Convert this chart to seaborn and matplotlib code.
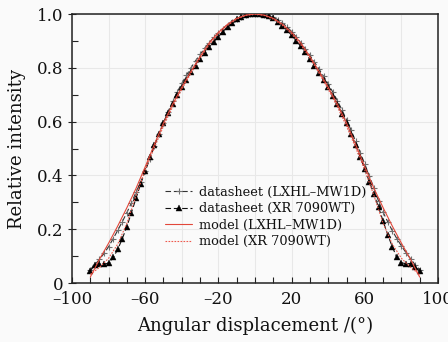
import numpy as np
import pandas as pd
import matplotlib
matplotlib.use("Agg")
import matplotlib.pyplot as plt
import seaborn as sns

# ---- data ----
ds_angle = [-90, -87.5, -85, -82.5, -80, -77.5, -75, -72.5, -70, -67.5, -65, -62.5,
            -60, -57.5, -55, -52.5, -50, -47.5, -45, -42.5, -40, -37.5, -35, -32.5,
            -30, -27.5, -25, -22.5, -20, -17.5, -15, -12.5, -10, -7.5, -5, -2.5, 0,
            2.5, 5, 7.5, 10, 12.5, 15, 17.5, 20, 22.5, 25, 27.5, 30, 32.5, 35, 37.5,
            40, 42.5, 45, 47.5, 50, 52.5, 55, 57.5, 60, 62.5, 65, 67.5, 70, 72.5, 75,
            77.5, 80, 82.5, 85, 87.5, 90]

ds_lxhl = [0.050, 0.068, 0.088, 0.110, 0.135, 0.165, 0.196, 0.228, 0.262, 0.298, 0.338, 0.375,
           0.415, 0.462, 0.508, 0.553, 0.596, 0.637, 0.675, 0.710, 0.742, 0.772, 0.800, 0.826,
           0.850, 0.873, 0.894, 0.913, 0.930, 0.946, 0.960, 0.972, 0.982, 0.990, 0.996, 0.999,
           1.000,
           1.000, 0.998, 0.994, 0.988, 0.979, 0.967, 0.952, 0.935, 0.915, 0.893, 0.870, 0.846,
           0.821, 0.795, 0.768, 0.740, 0.710, 0.678, 0.644, 0.607, 0.568, 0.527, 0.485, 0.442,
           0.398, 0.352, 0.305, 0.263, 0.228, 0.195, 0.165, 0.138, 0.113, 0.090, 0.068, 0.050]

ds_xr = [0.045, 0.068, 0.070, 0.070, 0.074, 0.095, 0.125, 0.165, 0.210, 0.262, 0.315, 0.368,
         0.418, 0.467, 0.512, 0.555, 0.595, 0.632, 0.666, 0.698, 0.728, 0.756, 0.783, 0.808,
         0.832, 0.855, 0.877, 0.897, 0.916, 0.935, 0.952, 0.967, 0.980, 0.990, 0.996, 0.999,
         1.000,
         0.999, 0.997, 0.992, 0.984, 0.972, 0.957, 0.940, 0.921, 0.901, 0.880, 0.857, 0.833,
         0.808, 0.782, 0.755, 0.727, 0.697, 0.664, 0.630, 0.594, 0.555, 0.512, 0.468, 0.423,
         0.377, 0.330, 0.282, 0.230, 0.180, 0.135, 0.095, 0.075, 0.072, 0.072, 0.060, 0.045]

model_angle = [-90, -85, -80, -75, -70, -65, -60, -55, -50, -45, -40, -35, -30, -25, -20,
               -15, -10, -5, 0, 5, 10, 15, 20, 25, 30, 35, 40, 45, 50, 55, 60, 65, 70, 75,
               80, 85, 90]

model_lxhl = [0.022, 0.088, 0.148, 0.212, 0.280, 0.352, 0.432, 0.515, 0.595, 0.665, 0.728,
              0.787, 0.842, 0.893, 0.932, 0.962, 0.984, 0.996, 1.000, 0.996, 0.984, 0.962,
              0.932, 0.893, 0.842, 0.787, 0.728, 0.665, 0.595, 0.515, 0.432, 0.352, 0.280,
              0.212, 0.148, 0.088, 0.022]

model_xr = [0.032, 0.058, 0.092, 0.145, 0.222, 0.325, 0.420, 0.503, 0.583, 0.655, 0.720,
            0.780, 0.836, 0.886, 0.926, 0.958, 0.981, 0.995, 1.000, 0.995, 0.981, 0.958,
            0.926, 0.886, 0.836, 0.780, 0.720, 0.655, 0.583, 0.503, 0.420, 0.325, 0.222,
            0.145, 0.092, 0.058, 0.032]

labels = ["datasheet (LXHL\u2013MW1D)", "datasheet (XR 7090WT)",
          "model (LXHL\u2013MW1D)", "model (XR 7090WT)"]

x_ticks = [-100, -80, -60, -40, -20, 0, 20, 40, 60, 80, 100]
x_ticklabels = ["\u2013100", "", "\u201360", "", "\u201320", "", "20", "", "60", "", "100"]
y_ticks = [0, 0.2, 0.4, 0.6, 0.8, 1.0]
y_ticklabels = ["0", "0.2", "0.4", "0.6", "0.8", "1.0"]

# ---- plotting ----
sns.set_style("ticks")
plt.rcParams["font.family"] = ["DejaVu Serif"]
plt.rcParams["mathtext.fontset"] = "dejavuserif"

bg = "#fafafa"
fig = plt.figure(figsize=(4.48, 3.42), dpi=100, facecolor=bg)
ax = fig.add_axes([0.1607, 0.1725, 0.8170, 0.7865])
ax.set_facecolor(bg)

df_ds = pd.DataFrame({"angle": ds_angle, "lxhl": ds_lxhl, "xr": ds_xr})
df_md = pd.DataFrame({"angle": model_angle, "lxhl": model_lxhl, "xr": model_xr})

sns.lineplot(data=df_ds, x="angle", y="lxhl", ax=ax, estimator=None, sort=False,
             color="#333333", linestyle=(0, (5, 2.5)), linewidth=0.8,
             marker="+", markersize=4.5, markeredgewidth=0.8,
             markeredgecolor="#707070", label=labels[0], zorder=3)
sns.lineplot(data=df_ds, x="angle", y="xr", ax=ax, estimator=None, sort=False,
             color="#111111", linestyle=(0, (5, 2.5)), linewidth=0.8,
             marker="^", markersize=3.8, markeredgewidth=0.3,
             markerfacecolor="black", markeredgecolor="black", label=labels[1], zorder=4)
sns.lineplot(data=df_md, x="angle", y="lxhl", ax=ax, estimator=None, sort=False,
             color="#e2473a", linestyle="-", linewidth=0.8, label=labels[2], zorder=5)
sns.lineplot(data=df_md, x="angle", y="xr", ax=ax, estimator=None, sort=False,
             color="#ee5a4e", linestyle=(0, (1.5, 1.2)), linewidth=0.8, label=labels[3], zorder=5)

ax.set_xlim(-100, 100)
ax.set_ylim(0, 1.0)
ax.set_xticks(x_ticks)
ax.set_xticklabels(x_ticklabels, fontsize=12)
ax.set_xticks(np.arange(-90, 100, 20), minor=True)
ax.set_yticks(y_ticks)
ax.set_yticklabels(y_ticklabels, fontsize=12)
ax.set_yticks([0.1, 0.3, 0.5, 0.7, 0.9], minor=True)

ax.grid(True, which="major", color="#e8e8e8", linewidth=0.8)
ax.set_axisbelow(True)

ax.tick_params(axis="x", which="both", direction="in", length=4, width=0.8,
               colors="#222222", pad=6, top=False)
ax.tick_params(axis="y", which="major", direction="inout", length=6, width=0.8,
               colors="#222222", pad=3, right=False)
ax.tick_params(axis="y", which="minor", direction="in", length=4, width=0.8,
               colors="#222222", right=False)
for lab in ax.get_xticklabels() + ax.get_yticklabels():
    lab.set_color("#111111")

for sp in ax.spines.values():
    sp.set_visible(True)
    sp.set_color("#222222")
    sp.set_linewidth(1.1)

ax.set_xlabel("Angular displacement /(\u00b0)", fontsize=13, labelpad=6, color="#111111")
ax.set_ylabel("Relative intensity", fontsize=13, labelpad=8, color="#111111")

leg = ax.legend(loc="upper left", bbox_to_anchor=(0.254, 0.362), frameon=False,
                fontsize=9.3, handlelength=2.1, handletextpad=0.5, labelspacing=0.27,
                borderpad=0, borderaxespad=0, numpoints=1)
for t in leg.get_texts():
    t.set_color("#111111")

fig.savefig("out.png", dpi=100, facecolor=bg)
